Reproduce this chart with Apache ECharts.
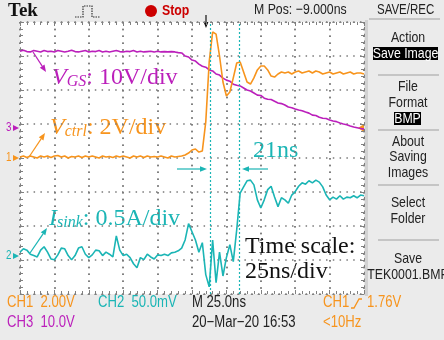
<!DOCTYPE html>
<html><head><meta charset="utf-8">
<script src="https://cdn.jsdelivr.net/npm/echarts@6/dist/echarts.min.js"></script>
<style>html,body{margin:0;padding:0;background:#ebebeb;}#c{width:444px;height:340px;}</style>
</head><body><div id="c"></div>
<script>
// Time base: 25 ns/div, 10 divisions, one sample every 2.5 ns from -125 ns
const tStart = -125, tStep = 2.5;
// CH1 Vctrl (V), 2 V/div
const vctrl = [0.06,0.12,0.03,0.12,0.06,0.0,0.12,0.06,0.12,0.03,0.12,0.15,0.06,0.12,0.0,0.09,0.06,0.12,0.03,0.12,
 0.06,0.12,0.06,0.0,0.12,0.06,0.09,0.03,0.12,0.06,0.12,0.06,0.0,0.12,0.06,0.12,0.03,0.12,0.06,0.09,
 0.06,0.12,0.06,0.0,0.12,0.06,0.09,0.12,0.18,0.29,0.47,0.53,0.35,0.41,2.12,5.65,7.41,7.29,6.0,4.47,
 3.65,3.88,4.71,5.59,5.65,5.06,4.47,4.35,4.71,5.18,5.41,5.41,5.18,4.82,4.76,4.94,5.06,5.0,5.06,4.94,
 5.06,5.12,5.0,5.06,5.12,5.0,5.12,5.06,4.94,5.0,5.06,4.94,5.0,5.06,4.94,5.0,5.06,4.94,5.0,5.0,4.94];
// CH3 VGS (V), 10 V/div
const vgs = [22.6,22.9,22.5,22.4,22.8,22.6,22.4,22.8,22.5,22.6,22.4,22.8,22.6,22.4,22.6,22.9,22.5,22.4,22.6,22.8,
 22.4,22.6,22.5,22.8,22.4,22.6,22.4,22.6,22.8,22.5,22.4,22.6,22.5,22.8,22.4,22.6,22.4,22.5,22.6,22.4,
 22.6,22.4,22.5,22.4,22.5,22.4,22.2,22.1,21.2,20.9,20.0,19.7,18.8,18.2,17.9,17.1,16.8,15.9,15.6,14.7,
 14.1,13.8,12.9,12.6,12.4,11.8,11.2,10.9,10.3,9.7,9.6,8.8,8.5,8.4,7.9,7.4,7.2,6.8,6.2,6.0,
 5.6,5.3,5.1,4.7,4.4,3.8,3.7,3.2,2.9,2.8,2.4,2.1,1.9,1.5,1.2,1.0,0.6,0.3,0.1,-0.1,-0.3];
// CH2 Isink (A), 0.5 A/div
const isink = [0.04,0.09,0.07,0.01,-0.01,-0.03,0.07,0.12,0.04,-0.06,-0.07,0.0,0.10,0.09,-0.01,-0.07,-0.01,0.10,0.12,0.01,
 -0.04,0.0,0.07,0.06,-0.01,0.04,0.01,-0.03,0.28,0.07,-0.01,0.01,-0.04,-0.13,-0.19,-0.04,-0.07,0.01,-0.03,-0.06,
 0.0,-0.01,0.01,-0.01,0.03,0.04,0.06,0.10,0.22,0.46,0.34,0.22,0.04,0.18,-0.29,-0.47,0.22,-0.41,0.04,-0.31,
 -0.04,0.15,-0.10,0.37,0.91,1.00,1.09,1.10,1.03,0.81,0.69,0.81,0.96,1.01,0.85,0.71,0.84,0.81,0.76,0.88,
 0.93,1.01,1.06,1.04,1.09,1.06,1.10,1.07,1.00,0.88,0.81,0.85,0.82,0.87,0.82,0.85,0.84,0.87,0.84,0.88,0.87];
// cursor positions (ns)
const cursors = [13, 34];
// channel scales (per div) and ground offsets (div from centre)
const ch1 = {scale: 2, gnd: 0};
const ch3 = {scale: 10, gnd: 0.88};
const ch2 = {scale: 0.5, gnd: -2.85};

const ORANGE = '#f7941d', MAGENTA = '#bb1fbb', CYAN = '#1bb5b5';
const SERIF = 'Liberation Serif, Times New Roman, serif';
const SANS = 'Liberation Sans, Arial, sans-serif';
const NARROW = 0.82;

const toPairs = arr => arr.map((v, i) => [tStart + i * tStep, v]);
const chAxis = ch => ({type: 'value', show: false, min: (-4 - ch.gnd) * ch.scale, max: (4 - ch.gnd) * ch.scale});

const gridCol = '#808080';
function edgeAxis(pos, split) {
  return {
    type: 'value', position: pos,
    axisLine: {show: true, onZero: false, lineStyle: {color: gridCol, width: 1, type: [1.5, 5.3]}},
    axisTick: {show: true, inside: true, length: 4, lineStyle: {color: gridCol}},
    minorTick: {show: true, splitNumber: 5, length: 3, lineStyle: {color: gridCol}},
    axisLabel: {show: false},
    splitLine: {show: split, lineStyle: {color: '#7a7a7a', width: 1.5, type: [1.5, 5.3]}}
  };
}

function arrow(x1, y1, x2, y2, color, h) {
  h = h || 7;
  const a = Math.atan2(y2 - y1, x2 - x1), c = Math.cos(a), s = Math.sin(a);
  const bx = x2 - h * c, by = y2 - h * s, w = h * 0.4;
  return [
    {type: 'line', shape: {x1: x1, y1: y1, x2: bx, y2: by}, style: {stroke: color, lineWidth: 1.2}},
    {type: 'polygon', shape: {points: [[x2, y2], [bx - w * s, by + w * c], [bx + w * s, by - w * c]]}, style: {fill: color}}
  ];
}
function txt(x, y, text, color, size, extra, weight) {
  return {type: 'text', x: x, y: y, scaleX: NARROW,
    style: Object.assign({text: text, fill: color, font: (weight ? weight + ' ' : '') + size + 'px ' + SANS, verticalAlign: 'middle'}, extra || {})};
}
function ann(x, y, main, sub, rest, color) {
  return {type: 'text', x: x, y: y, style: {
    text: '{v|' + main + '}{s|' + sub + '}{n|' + rest + '}', verticalAlign: 'middle',
    rich: {
      v: {fontFamily: SERIF, fontStyle: 'italic', fontSize: 24, fill: color, lineHeight: 24},
      s: {fontFamily: SERIF, fontStyle: 'italic', fontSize: 16, fill: color, verticalAlign: 'bottom', lineHeight: 16},
      n: {fontFamily: SERIF, fontSize: 24, fill: color, lineHeight: 24}
    }}};
}

const g = [];
// panel divider
g.push({type: 'rect', shape: {x: 365, y: 20, width: 3, height: 276}, style: {fill: '#d2d2d2'}});
// top bar
g.push({type: 'text', x: 8, y: 11, style: {text: 'Tek', font: 'bold 19px ' + SERIF, fill: '#111', verticalAlign: 'middle'}});
g.push({type: 'polyline', shape: {points: [[75, 17], [83, 17], [83, 6], [92, 6], [92, 17], [100, 17]]}, style: {stroke: '#333', lineWidth: 1.2, lineDash: [1.5, 1]}});
g.push({type: 'circle', shape: {cx: 151, cy: 11, r: 6}, style: {fill: '#cc0000'}});
g.push(txt(162, 11, 'Stop', '#cc0000', 15, null, 'bold'));
g.push(txt(254, 10, 'M Pos: \u22129.000ns', '#222', 15));
g.push(txt(377, 10, 'SAVE/REC', '#222', 14));
g.push({type: 'line', shape: {x1: 369, y1: 19, x2: 440, y2: 19}, style: {stroke: '#b8b8b8', lineWidth: 1.5}});
// trigger position marker
g.push(...arrow(206, 15, 206, 28, '#111', 6));
// right menu
const menu = [['Action', 38], ['File', 87], ['Format', 103], ['About', 142], ['Saving', 157], ['Images', 173], ['Select', 203], ['Folder', 219], ['Save', 259], ['TEK0001.BMP', 275]];
menu.forEach(m => g.push(txt(408, m[1], m[0], '#222', 15, {align: 'center'})));
g.push({type: 'rect', shape: {x: 373, y: 47, width: 65, height: 13}, style: {fill: '#000'}});
g.push(txt(405.5, 53.5, 'Save Image', '#fff', 15, {align: 'center'}));
g.push({type: 'rect', shape: {x: 394, y: 112, width: 27, height: 13}, style: {fill: '#000'}});
g.push(txt(407.5, 118.5, 'BMP', '#fff', 15, {align: 'center'}));
[75, 130, 185, 240].forEach(y => g.push({type: 'line', shape: {x1: 378, y1: y, x2: 439, y2: y}, style: {stroke: '#b8b8b8', lineWidth: 1.5}}));
// channel ground markers
[['3', MAGENTA, 128], ['1', ORANGE, 158], ['2', CYAN, 256]].forEach(m => {
  g.push(txt(6, m[2], m[0], m[1], 12));
  g.push({type: 'polygon', shape: {points: [[13, m[2] - 3], [19, m[2]], [13, m[2] + 3]]}, style: {fill: m[1]}});
});
// trigger level marker
g.push({type: 'polygon', shape: {points: [[358, 128], [364, 124], [364, 132]]}, style: {fill: ORANGE}});
// annotations
g.push(ann(52, 78, 'V', 'GS', ': 10V/div', MAGENTA));
g.push(...arrow(33, 52, 46, 72, MAGENTA));
g.push(ann(50, 128, 'V', 'ctrl', ': 2V/div', ORANGE));
g.push(...arrow(29, 157, 45, 133, ORANGE));
g.push(ann(49, 219, 'I', 'sink', ': 0.5A/div', CYAN));
g.push(...arrow(30, 253, 47, 228, CYAN));
g.push({type: 'text', x: 253, y: 151, style: {text: '21ns', font: '24px ' + SERIF, fill: CYAN, verticalAlign: 'middle'}});
g.push(...arrow(177, 169, 207, 169, CYAN));
g.push(...arrow(268, 169, 242, 169, CYAN));
g.push({type: 'text', x: 245, y: 247, style: {text: 'Time scale:', font: '24px ' + SERIF, fill: '#111', verticalAlign: 'middle'}});
g.push({type: 'text', x: 245, y: 272, style: {text: '25ns/div', font: '24px ' + SERIF, fill: '#111', verticalAlign: 'middle'}});
// status lines
g.push(txt(7, 303, 'CH1  2.00V', ORANGE, 16));
g.push(txt(98, 303, 'CH2  50.0mV', CYAN, 16));
g.push(txt(192, 303, 'M 25.0ns', '#222', 16));
g.push(txt(323, 303, 'CH1', ORANGE, 16));
g.push({type: 'polyline', shape: {points: [[351, 308], [354, 308], [359, 299], [362, 299]]}, style: {stroke: ORANGE, lineWidth: 1.3}});
g.push(txt(367, 303, '1.76V', ORANGE, 16));
g.push(txt(7, 323, 'CH3  10.0V', MAGENTA, 16));
g.push(txt(192, 323, '20\u2212Mar\u221220 16:53', '#222', 16));
g.push(txt(323, 323, '<10Hz', ORANGE, 16));

const chart = echarts.init(document.getElementById('c'), null, {renderer: 'canvas'});
chart.setOption({
  animation: false,
  backgroundColor: '#ebebeb',
  grid: {left: 20, top: 22, width: 344, height: 272, show: true, backgroundColor: '#fff', borderWidth: 0},
  xAxis: [
    Object.assign(edgeAxis('bottom', true), {min: -125, max: 125, interval: 25}),
    Object.assign(edgeAxis('top', true), {min: -125, max: 125, interval: 25})
  ],
  yAxis: [
    Object.assign(edgeAxis('left', true), {min: -4, max: 4, interval: 1}),
    Object.assign(edgeAxis('right', false), {min: -4, max: 4, interval: 1}),
    chAxis(ch1), chAxis(ch3), chAxis(ch2)
  ],
  series: [
    {name: 'Isink', type: 'line', yAxisIndex: 4, data: toPairs(isink), showSymbol: false, lineStyle: {color: CYAN, width: 1.6},
     markLine: {silent: true, symbol: 'none', label: {show: false}, lineStyle: {color: CYAN, type: [2, 2], width: 1.2},
       data: cursors.map(t => ({xAxis: t}))}},
    {name: 'VGS', type: 'line', yAxisIndex: 3, data: toPairs(vgs), showSymbol: false, lineStyle: {color: MAGENTA, width: 1.6}},
    {name: 'Vctrl', type: 'line', yAxisIndex: 2, data: toPairs(vctrl), showSymbol: false, lineStyle: {color: ORANGE, width: 1.6}}
  ],
  graphic: g
});
</script></body></html>
